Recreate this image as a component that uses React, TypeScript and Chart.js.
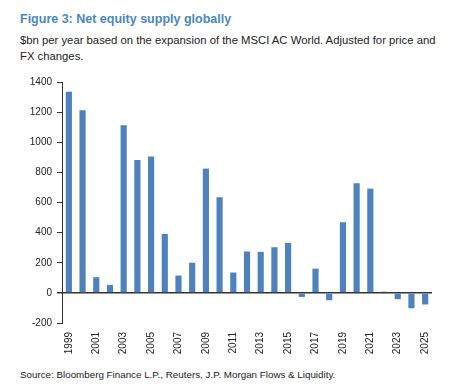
import React, { useEffect, useRef } from "react";
import { Chart, registerables } from "chart.js";

Chart.register(...registerables);

const years: string[] = [
  "1999", "2000", "2001", "2002", "2003", "2004", "2005", "2006", "2007",
  "2008", "2009", "2010", "2011", "2012", "2013", "2014", "2015", "2016",
  "2017", "2018", "2019", "2020", "2021", "2022", "2023", "2024", "2025",
];

const supply: number[] = [
  1335, 1212, 104, 53, 1113, 882, 905, 391, 115,
  200, 825, 635, 135, 275, 272, 303, 332, -27,
  161, -49, 469, 728, 692, 8, -42, -102, -77,
];

const yTicks: number[] = [-200, 0, 200, 400, 600, 800, 1000, 1200, 1400];

const FONT = "'Liberation Sans', Arial, Helvetica, sans-serif";

export default function App() {
  const ref = useRef<HTMLCanvasElement | null>(null);

  useEffect(() => {
    if (!ref.current) return;
    const chart = new Chart(ref.current, {
      type: "bar",
      data: {
        labels: years,
        datasets: [
          {
            data: supply,
            backgroundColor: "#4f81bd",
            borderWidth: 0,
            barPercentage: 0.45,
            categoryPercentage: 1,
          },
        ],
      },
      options: {
        animation: false,
        responsive: false,
        maintainAspectRatio: false,
        layout: { padding: { top: 12, right: 22, left: 0, bottom: 0 } },
        plugins: {
          legend: { display: false },
          tooltip: { enabled: false },
          title: { display: false },
        },
        scales: {
          x: {
            grid: { display: false, drawTicks: false },
            border: { display: false },
            afterFit: (scale: any) => {
              scale.height = 37;
            },
            ticks: {
              autoSkip: false,
              maxRotation: 90,
              minRotation: 90,
              padding: 9,
              color: "#222",
              font: { family: FONT, size: 10 },
              callback: (_v: any, i: number) => (i % 2 === 0 ? years[i] : ""),
            },
          },
          y: {
            min: -200,
            max: 1400,
            afterBuildTicks: (scale: any) => {
              scale.ticks = yTicks.map((v) => ({ value: v }));
            },
            afterFit: (scale: any) => {
              scale.width = 62;
            },
            grid: {
              drawTicks: true,
              tickLength: 5,
              tickColor: "#333",
              lineWidth: (ctx: any) => (ctx.tick && ctx.tick.value === 0 ? 1.5 : 1),
              color: (ctx: any) =>
                ctx.tick && ctx.tick.value === 0 ? "#333" : "rgba(0,0,0,0)",
            },
            border: { color: "#333", width: 1 },
            ticks: {
              padding: 5,
              color: "#222",
              font: { family: FONT, size: 10 },
              callback: (v: any) => String(v),
            },
          },
        },
      },
    });
    return () => chart.destroy();
  }, []);

  return (
    <div
      style={{
        position: "absolute",
        left: 0,
        top: 0,
        width: 454,
        height: 388,
        background: "#fff",
        fontFamily: FONT,
        overflow: "hidden",
      }}
    >
      <div
        style={{
          position: "absolute",
          left: 20,
          top: 12,
          fontSize: 12.5,
          fontWeight: "bold",
          color: "#4a86c5",
          whiteSpace: "nowrap",
        }}
      >
        Figure 3: Net equity supply globally
      </div>
      <div
        style={{
          position: "absolute",
          left: 20,
          top: 32,
          fontSize: 11.3,
          lineHeight: "16px",
          color: "#222",
          whiteSpace: "nowrap",
        }}
      >
        $bn per year based on the expansion of the MSCI AC World. Adjusted for price and
        <br />
        FX changes.
      </div>
      <canvas
        ref={ref}
        width={454}
        height={290}
        style={{ position: "absolute", left: 0, top: 70, width: 454, height: 290 }}
      />
      <div
        style={{
          position: "absolute",
          left: 20,
          top: 369,
          fontSize: 9.8,
          color: "#222",
          whiteSpace: "nowrap",
        }}
      >
        Source: Bloomberg Finance L.P., Reuters, J.P. Morgan Flows &amp; Liquidity.
      </div>
    </div>
  );
}
